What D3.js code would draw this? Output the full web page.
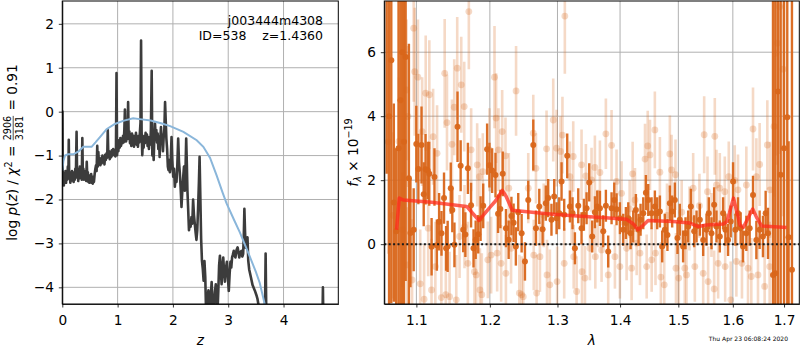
<!DOCTYPE html>
<html>
<head>
<meta charset="utf-8">
<script src="https://cdn.jsdelivr.net/npm/d3@7"></script>
<style>
  body { margin: 0; background: #fff; }
  svg { display: block; font-family: "DejaVu Sans", sans-serif; }
  .grid line { stroke: #b0b0b0; stroke-width: 1; }
  .axis path, .axis line { stroke: #000; stroke-width: 0.8; }
  .axis text { font-size: 13.7px; fill: #000; font-family: "DejaVu Sans", sans-serif; }
</style>
</head>
<body>
<svg id="chart" width="800" height="350"></svg>
<script>
// ---- data ----
var zTicks = [0, 1, 2, 3, 4];
var logpTicks = [-4, -3, -2, -1, 0, 1, 2];
var lamTicks = [1.1, 1.2, 1.3, 1.4, 1.5, 1.6, 1.7];
var fluxTicks = [0, 2, 4, 6];

// log p(z) curve [z, log p]
var logpz = [
  [0.000,-1.70],[0.003,0.00],[0.008,-1.62],[0.018,-1.40],[0.028,-1.68],[0.038,-1.45],[0.048,-1.58],[0.058,-1.35],
  [0.068,-1.62],[0.078,-1.42],[0.090,-1.55],[0.100,-1.25],[0.110,-1.50],[0.117,-0.64],[0.125,-1.52],[0.135,-1.38],
  [0.145,-1.62],[0.155,-1.45],[0.165,-1.57],[0.175,-1.35],[0.185,-1.52],[0.195,-1.42],[0.205,-1.60],[0.215,-1.38],
  [0.225,-1.55],[0.235,-1.30],[0.245,-1.50],[0.258,-0.46],[0.268,-1.48],[0.278,-1.30],[0.288,-1.58],[0.298,-1.40],
  [0.308,-1.52],[0.318,-1.25],[0.328,-1.50],[0.340,-1.38],[0.352,-1.55],[0.362,-0.60],[0.372,-1.45],[0.382,-1.30],
  [0.392,-1.55],[0.402,-1.40],[0.412,-1.52],[0.422,-1.35],[0.432,-1.58],[0.442,-1.14],[0.452,-1.50],[0.462,-1.38],
  [0.472,-1.60],[0.482,-1.45],[0.492,-1.62],[0.502,-1.48],[0.512,-1.58],[0.522,-1.42],[0.532,-1.62],[0.542,-1.50],
  [0.552,-1.64],[0.562,-1.48],[0.572,-1.60],[0.585,-1.42],[0.598,-1.30],[0.610,-1.22],[0.620,-1.35],[0.632,-0.78],
  [0.642,-1.25],[0.652,-0.92],[0.662,-1.20],[0.675,-1.05],[0.688,-1.22],[0.700,-1.10],[0.712,-1.18],[0.725,-1.00],
  [0.738,-1.15],[0.750,-1.05],[0.762,-1.20],[0.775,-0.98],[0.788,-1.10],[0.800,-0.95],[0.812,-1.05],[0.822,-0.42],
  [0.832,-1.00],[0.845,-0.90],[0.858,-1.08],[0.870,-0.92],[0.882,-1.04],[0.895,-0.88],[0.908,-1.00],[0.920,-0.85],
  [0.932,-0.98],[0.945,-0.88],[0.958,-1.02],[0.970,-0.92],[0.980,0.88],[0.990,-0.99],[1.002,-0.78],[1.014,-0.90],
  [1.026,-0.65],[1.038,-0.82],[1.050,-0.60],[1.062,-0.78],[1.074,-0.62],[1.086,-0.72],[1.098,-0.55],[1.110,-0.70],
  [1.122,-0.40],[1.132,0.05],[1.142,-0.52],[1.154,-0.68],[1.166,-0.48],[1.178,-0.62],[1.190,0.22],[1.200,-0.58],
  [1.212,-0.45],[1.224,-0.72],[1.236,-0.52],[1.248,-0.78],[1.260,-0.50],[1.272,-0.68],[1.284,-0.55],[1.296,-0.80],
  [1.308,-0.55],[1.320,-0.72],[1.332,-0.48],[1.344,-0.75],[1.356,-0.58],[1.368,-0.80],[1.380,-0.55],[1.392,-0.70],
  [1.404,-0.45],[1.414,-0.25],[1.424,1.62],[1.434,-0.45],[1.446,-0.99],[1.458,-0.65],[1.470,-0.82],[1.482,-0.55],
  [1.494,-0.72],[1.506,-0.48],[1.518,-0.68],[1.530,-0.52],[1.542,-0.78],[1.554,-0.58],[1.566,-0.85],[1.578,-0.62],
  [1.590,-0.75],[1.602,-0.40],[1.616,0.93],[1.628,-1.00],[1.640,-0.72],[1.652,-1.10],[1.664,-0.60],[1.676,-0.27],
  [1.688,-0.55],[1.700,-0.42],[1.712,-0.70],[1.724,-0.50],[1.736,-0.85],[1.748,-0.58],[1.760,-1.03],[1.772,-0.62],
  [1.784,-0.35],[1.796,-0.70],[1.808,-0.52],[1.820,-0.90],[1.832,-0.60],[1.845,-0.40],[1.858,0.22],[1.870,-0.20],
  [1.882,-0.62],[1.895,-0.85],[1.908,-1.25],[1.920,-1.33],[1.932,-1.10],[1.945,-1.38],[1.958,-1.20],[1.975,-0.58],
  [1.988,-1.10],[2.005,-1.48],[2.020,-1.30],[2.035,-1.71],[2.050,-1.45],[2.065,-1.60],[2.080,-1.20],[2.095,-0.61],
  [2.110,-1.15],[2.125,-1.40],[2.140,-1.75],[2.155,-2.17],[2.170,-1.80],[2.185,-1.50],[2.200,-1.25],[2.215,-1.80],
  [2.228,-1.30],[2.240,-0.61],[2.252,-1.20],[2.262,-1.79],[2.275,-2.20],[2.290,-2.70],[2.305,-2.55],[2.320,-2.62],
  [2.335,-2.40],[2.350,-2.55],[2.365,-2.00],[2.380,-2.35],[2.395,-2.55],[2.410,-2.75],[2.425,-2.92],[2.440,-2.70],
  [2.455,-2.20],[2.470,-1.60],[2.482,-1.03],[2.495,-1.90],[2.510,-2.90],[2.525,-3.40],[2.540,-3.58],[2.555,-3.85],
  [2.570,-3.40],[2.585,-3.77],[2.600,-4.60],[2.615,-4.90],[2.630,-4.20],[2.642,-4.07],[2.655,-4.50],[2.670,-4.80],
  [2.685,-4.20],[2.700,-3.88],[2.715,-4.30],[2.730,-4.70],[2.745,-4.40],[2.760,-4.10],[2.775,-3.93],[2.790,-4.25],
  [2.805,-4.60],[2.820,-4.10],[2.835,-3.50],[2.850,-3.28],[2.865,-3.60],[2.880,-3.93],[2.895,-3.55],[2.910,-3.32],
  [2.925,-3.65],[2.940,-3.87],[2.955,-3.60],[2.975,-3.42],[2.990,-3.70],[3.010,-4.08],[3.025,-3.70],[3.040,-3.42],
  [3.055,-3.55],[3.070,-3.32],[3.085,-3.25],[3.100,-3.17],[3.115,-3.28],[3.130,-3.32],[3.150,-3.15],[3.170,-3.09],
  [3.185,-3.20],[3.200,-3.32],[3.220,-3.20],[3.240,-3.17],[3.255,-3.30],[3.270,-3.24],[3.282,-2.80],[3.292,-2.21],
  [3.303,-2.70],[3.315,-3.10],[3.330,-3.05],[3.348,-2.86],[3.362,-3.39],[3.380,-3.60],[3.410,-3.77],[3.440,-3.95],
  [3.480,-4.07],[3.510,-4.18],[3.530,-4.27],[3.560,-4.50],[3.600,-4.80],[3.640,-4.95],[3.665,-4.50],[3.676,-3.23],
  [3.688,-4.60],[3.710,-5.30],[3.800,-5.60],[4.000,-5.80],[4.200,-5.50],[4.400,-5.90],[4.600,-5.60],[4.700,-5.00],
  [4.712,-4.00],[4.722,-5.00],[4.800,-5.80],[4.990,-6.00]
];

// prior curve [z, log p]
var prior = [
  [0.00,-1.35],[0.02,-1.12],[0.05,-1.00],[0.10,-0.97],[0.20,-0.97],[0.30,-0.90],[0.38,-0.80],[0.53,-0.80],
  [0.60,-0.70],[0.70,-0.55],[0.80,-0.40],[0.95,-0.28],[1.10,-0.21],[1.28,-0.15],[1.40,-0.17],[1.60,-0.20],
  [1.80,-0.27],[1.95,-0.33],[2.19,-0.46],[2.43,-0.65],[2.55,-0.80],[2.67,-1.05],[2.79,-1.45],[2.90,-1.85],
  [2.97,-2.09],[3.10,-2.45],[3.21,-2.75],[3.39,-3.30],[3.50,-3.65],[3.57,-3.90],[3.70,-4.60]
];

// spectrum, first set (dark) [lambda, flux, err]
var specDark = [
  [1.0620,9.0,6.8],[1.0650,4.0,6.0],[1.0678,5.75,7.6],[1.0710,1.3,3.1],[1.0740,0.4,2.6],[1.0770,3.0,9],
  [1.0795,4.5,8],[1.0818,6.0,8],[1.0840,3.2,6],[1.0861,5.85,7],[1.0903,2.06,4.2],[1.0923,0.35,1.7],
  [1.0965,0.45,1.3],[1.0999,3.13,1.2],[1.1026,2.35,1.1],[1.1067,3.1,1.2],[1.1096,1.56,1.0],[1.1120,2.34,1.1],
  [1.1149,2.3,0.9],[1.1169,2.2,1.0],[1.1200,-0.08,0.9],[1.1238,2.1,0.9],[1.1270,-0.03,0.8],[1.1300,0.7,0.9],
  [1.1332,0.34,0.7],[1.1366,1.44,0.8],[1.1394,-0.13,0.7],[1.1415,-0.07,0.8],[1.1457,1.75,0.8],[1.1478,1.07,0.7],
  [1.1507,-0.02,0.7],[1.1549,3.67,1.1],[1.1592,2.45,0.8],[1.1627,0.45,0.7],[1.1657,0.3,0.7],[1.1692,2.37,0.8],
  [1.1736,1.22,0.7],[1.1770,-0.13,0.6],[1.1800,0.14,0.6],[1.1836,0.31,0.6],[1.1869,0.8,0.7],[1.1906,1.2,0.7],
  [1.1961,2.97,0.8],[1.1994,2.47,0.7],[1.2032,2.3,0.7],[1.2080,2.16,0.7],[1.2117,0.95,0.6],[1.2150,1.1,0.6],
  [1.2184,2.2,0.7],[1.2231,0.5,0.6],[1.2270,0.14,0.6],[1.2310,0.88,0.6],[1.2342,0.67,0.6],[1.2375,-0.07,0.6],
  [1.2410,1.0,0.6],[1.2460,0.34,0.6],[1.2509,-0.54,0.6],[1.2558,1.38,0.6],[1.2633,3.1,0.8],[1.2673,0.5,0.55],
  [1.2723,1.18,0.55],[1.2773,0.47,0.5],[1.2822,1.28,0.55],[1.2858,1.44,0.6],[1.2908,0.76,0.5],[1.2950,1.49,0.55],
  [1.2986,0.81,0.5],[1.3027,0.97,0.5],[1.3063,1.96,0.6],[1.3104,0.92,0.5],[1.3151,2.76,0.7],[1.3193,1.18,0.5],
  [1.3234,0.97,0.5],[1.3271,-0.13,0.5],[1.3324,1.2,0.55],[1.3376,0.5,0.5],[1.3413,0.92,0.5],[1.3456,1.12,0.5],
  [1.3498,1.93,0.6],[1.3546,0.24,0.5],[1.3589,1.0,0.5],[1.3627,1.18,0.5],[1.3670,1.12,0.55],[1.3724,0.4,0.5],
  [1.3767,1.2,0.5],[1.3805,-0.23,0.5],[1.3860,1.12,0.5],[1.3904,1.38,0.55],[1.3942,1.09,0.5],[1.3997,0.81,0.5],
  [1.4053,0.45,0.5],[1.4097,0.66,0.5],[1.4137,0.81,0.5],[1.4176,0.34,0.5],[1.4220,0.55,0.5],[1.4265,1.07,0.5],
  [1.4310,0.45,0.5],[1.4344,0.76,0.5],[1.4390,0.97,0.5],[1.4435,1.61,0.55],[1.4475,1.38,0.5],[1.4532,0.97,0.5],
  [1.4589,1.18,0.5],[1.4629,0.97,0.5],[1.4676,1.02,0.5],[1.4716,-0.07,0.5],[1.4762,0.45,0.5],[1.4808,0.29,0.5],
  [1.4850,1.28,0.55],[1.4891,1.02,0.5],[1.4938,1.38,0.55],[1.4985,0.19,0.5],[1.5026,0.76,0.5],[1.5085,-0.07,0.5],
  [1.5128,0.34,0.5],[1.5176,0.55,0.5],[1.5224,1.18,0.55],[1.5284,0.4,0.5],[1.5327,0.55,0.5],[1.5387,0.76,0.5],
  [1.5448,0.13,0.5],[1.5509,0.45,0.5],[1.5551,0.97,0.5],[1.5601,0.34,0.5],[1.5650,1.23,0.55],[1.5693,0.55,0.5],
  [1.5755,0.24,0.5],[1.5817,0.97,0.5],[1.5860,0.45,0.5],[1.5910,0.13,0.5],[1.5960,0.71,0.5],[1.6004,1.96,0.6],
  [1.6048,0.45,0.5],[1.6098,0.97,0.5],[1.6149,0.5,0.5],[1.6194,-0.07,0.5],[1.6258,0.34,0.55],[1.6322,0.5,0.55],
  [1.6387,1.54,0.6],[1.6452,0.13,0.6],[1.6516,0.45,0.6],[1.6581,0.24,0.65],[1.6634,0.97,0.7],[1.6680,0.34,0.8],
  [1.6779,-0.96,9],[1.6825,-0.91,9],[1.6878,4.77,9],[1.6932,2.17,9],[1.7000,3.0,9],[1.7065,3.97,9],
  [1.7092,0.22,3],[1.7160,-0.8,9]
];

// spectrum, second set (faint) [lambda, flux, err]
var specLight = [
  [1.0640,3.2,3.5],[1.0700,0.9,2.6],[1.0775,3.21,2.0],[1.0818,0.45,1.8],[1.0873,4.82,2.2],[1.0881,-0.65,1.8],
  [1.0890,3.99,2.2],[1.0944,-1.12,1.9],[1.0965,6.75,2.3],[1.0978,5.39,2.0],[1.1020,5.22,1.8],[1.1050,-1.24,1.7],
  [1.1075,3.52,1.7],[1.1101,-1.72,1.7],[1.1122,4.72,1.8],[1.1155,0.5,1.5],[1.1170,4.67,1.7],[1.1199,-1.43,1.6],
  [1.1220,3.36,1.5],[1.1250,-0.7,1.4],[1.1273,2.84,1.5],[1.1330,-1.67,1.5],[1.1375,5.34,1.7],[1.1390,-1.58,1.4],
  [1.1406,3.8,1.5],[1.1441,-1.64,1.4],[1.1473,3.12,1.4],[1.1504,4.28,1.5],[1.1532,-1.74,1.4],[1.1545,5.5,1.6],
  [1.1577,0.24,1.3],[1.1600,4.98,1.5],[1.1641,4.3,1.4],[1.1645,0.55,1.3],[1.1691,-0.6,1.3],[1.1705,7.27,1.8],
  [1.1737,2.95,1.3],[1.1783,-0.86,1.3],[1.1807,-0.96,1.3],[1.1821,2.48,1.3],[1.1853,2.11,1.2],[1.1860,-1.43,1.3],
  [1.1886,-1.58,1.3],[1.1900,2.27,1.2],[1.1971,-0.49,1.2],[1.1994,2.95,1.3],[1.2018,-0.34,1.2],[1.2066,5.22,1.6],
  [1.2089,3.94,1.4],[1.2104,-0.28,1.2],[1.2123,2.95,1.3],[1.2161,-0.6,1.2],[1.2176,3.52,1.3],[1.2224,2.76,1.2],
  [1.2230,-0.91,1.2],[1.2272,1.75,1.1],[1.2305,-0.13,1.1],[1.2378,4.79,1.4],[1.2426,-1.53,1.2],[1.2460,-1.58,1.2],
  [1.2484,-1.64,1.2],[1.2558,1.75,1.1],[1.2633,3.47,1.2],[1.2640,-0.34,1.1],[1.2673,2.37,1.1],[1.2683,-1.53,1.2],
  [1.2733,-0.39,1.1],[1.2790,0.9,1.0],[1.2833,2.98,1.2],[1.2840,-0.96,1.1],[1.2883,-1.27,1.1],[1.2935,3.88,1.3],
  [1.2986,3.0,1.2],[1.2995,-1.17,1.1],[1.3047,2.9,1.1],[1.3077,3.41,1.2],[1.3104,-0.6,1.1],[1.3114,7.13,1.8],
  [1.3193,2.11,1.1],[1.3220,1.0,1.0],[1.3245,2.74,1.1],[1.3252,-0.39,1.0],[1.3298,-1.48,1.1],[1.3376,2.48,1.1],
  [1.3383,-0.86,1.0],[1.3430,-1.06,1.0],[1.3445,2.13,1.0],[1.3509,-0.13,1.0],[1.3535,2.01,1.0],[1.3589,2.4,1.0],
  [1.3596,-0.39,1.0],[1.3640,0.8,0.9],[1.3670,2.24,1.0],[1.3697,-0.18,1.0],[1.3767,3.45,1.1],[1.3805,-0.96,1.0],
  [1.3860,3.09,1.1],[1.3915,-0.39,1.0],[1.3942,1.96,1.0],[1.3997,-0.7,1.0],[1.4025,1.59,1.0],[1.4109,-0.13,1.0],
  [1.4160,1.1,0.9],[1.4193,-0.75,1.0],[1.4210,2.2,1.0],[1.4250,1.38,1.0],[1.4278,0.03,1.0],[1.4334,-0.28,1.0],
  [1.4420,2.66,1.1],[1.4448,-0.7,1.0],[1.4466,3.07,1.1],[1.4505,2.79,1.1],[1.4534,-0.49,1.0],[1.4589,3.57,1.2],
  [1.4600,-0.28,1.0],[1.4676,2.25,1.1],[1.4693,-1.03,1.1],[1.4752,-1.27,1.1],[1.4800,0.9,1.0],[1.4850,2.82,1.2],
  [1.4880,2.32,1.1],[1.4950,2.17,1.1],[1.4958,-0.75,1.1],[1.5008,-1.06,1.1],[1.5060,1.0,1.0],[1.5115,-0.75,1.1],
  [1.5146,-0.96,1.1],[1.5200,0.8,1.0],[1.5266,1.75,1.1],[1.5296,-0.7,1.1],[1.5380,1.2,1.0],[1.5448,-0.91,1.1],
  [1.5466,3.42,1.2],[1.5527,1.64,1.1],[1.5539,-1.17,1.1],[1.5600,0.6,1.0],[1.5650,-1.4,1.2],[1.5662,3.37,1.2],
  [1.5693,1.85,1.1],[1.5724,-0.6,1.1],[1.5755,1.75,1.1],[1.5848,1.64,1.1],[1.5855,-0.7,1.1],[1.5923,2.11,1.1],
  [1.5960,-1.74,1.2],[1.6036,1.99,1.1],[1.6067,-0.54,1.1],[1.6098,1.7,1.1],[1.6174,-0.6,1.1],[1.6258,1.85,1.2],
  [1.6290,-0.75,1.2],[1.6354,-1.01,1.2],[1.6387,3.6,1.3],[1.6452,2.11,1.2],[1.6484,-0.96,1.2],[1.6516,2.49,1.3],
  [1.6614,-1.32,1.3],[1.6667,3.1,1.4],[1.6713,-0.7,1.4],[1.6720,1.7,1.5],[1.6800,3.68,2.2],[1.6840,5.97,3.2],
  [1.6866,6.28,3.8],[1.6912,7.42,4.6],[1.6979,5.47,4.6]
];

// best-fit model [lambda, flux]
var model = [
  [1.0745,0.45],[1.0779,1.44],[1.0830,1.38],[1.1200,1.31],[1.1675,1.18],[1.1846,0.74],[1.2000,1.15],[1.2080,1.35],
  [1.2178,1.68],[1.2232,1.50],[1.2322,1.06],[1.2800,0.96],[1.3245,0.89],[1.3700,0.83],[1.4107,0.78],[1.4218,0.64],
  [1.4302,0.45],[1.4377,0.57],[1.4473,0.74],[1.4908,0.71],[1.5207,0.66],[1.5360,0.55],[1.5510,0.60],[1.5820,0.63],
  [1.5890,0.71],[1.6013,1.44],[1.6137,0.60],[1.6201,0.53],[1.6380,1.10],[1.6458,0.83],[1.6555,0.57],[1.7051,0.52]
];

var svg = d3.select("#chart");

// ---------- left panel: p(z) ----------
var L = {x0: 62.3, x1: 338.3, y0: 1, y1: 304};
var xz = d3.scaleLinear().domain([0, 4.99]).range([L.x0, L.x1]);
var yp = d3.scaleLinear().domain([-4.38, 2.52]).range([L.y1, L.y0]);

svg.append("clipPath").attr("id", "clipL").append("rect")
  .attr("x", L.x0).attr("y", L.y0).attr("width", L.x1 - L.x0).attr("height", L.y1 - L.y0);

var gl = svg.append("g");
var gridL = gl.append("g").attr("class", "grid");
gridL.selectAll(".vx").data(zTicks).enter().append("line")
  .attr("x1", function(d) { return xz(d); }).attr("x2", function(d) { return xz(d); })
  .attr("y1", L.y0).attr("y2", L.y1);
gridL.selectAll(".hy").data(logpTicks).enter().append("line")
  .attr("x1", L.x0).attr("x2", L.x1)
  .attr("y1", function(d) { return yp(d); }).attr("y2", function(d) { return yp(d); });

var lineL = d3.line()
  .x(function(d) { return xz(d[0]); })
  .y(function(d) { return yp(d[1]); });

var plotL = gl.append("g").attr("clip-path", "url(#clipL)");
plotL.append("path").datum(logpz)
  .attr("d", lineL).attr("fill", "none")
  .attr("stroke", "#3c3c3c").attr("stroke-width", 2.6).attr("stroke-linejoin", "round");
plotL.append("path").datum(prior)
  .attr("d", lineL).attr("fill", "none")
  .attr("stroke", "#8ab6da").attr("stroke-width", 2);

gl.append("g").attr("class", "axis")
  .attr("transform", "translate(0," + L.y1 + ")")
  .call(d3.axisBottom(xz).tickValues(zTicks).tickSize(3.5).tickPadding(8).tickSizeOuter(0)
    .tickFormat(d3.format("d")));
gl.append("g").attr("class", "axis")
  .attr("transform", "translate(" + L.x0 + ",0)")
  .call(d3.axisLeft(yp).tickValues(logpTicks).tickSize(3.5).tickPadding(4.8).tickSizeOuter(0)
    .tickFormat(function(d) { return d < 0 ? "\u2212" + Math.abs(d) : d; }));
gl.append("rect").attr("x", L.x0).attr("y", L.y0).attr("width", L.x1 - L.x0).attr("height", L.y1 - L.y0)
  .attr("fill", "none").attr("stroke", "#000").attr("stroke-width", 1);

gl.append("text").attr("x", 323).attr("y", 25).attr("text-anchor", "end")
  .style("font-size", "12.5px").text("j003444m4308");
gl.append("text").attr("x", 323).attr("y", 39.5).attr("text-anchor", "end")
  .style("font-size", "12.5px").style("white-space", "pre").text("ID=538    z=1.4360");

gl.append("text").attr("x", (L.x0 + L.x1) / 2).attr("y", 345).attr("text-anchor", "middle")
  .style("font-size", "13.7px").style("font-style", "italic").text("z");

// pieces of a mathtext-like label laid out one after another
function mathLabel(parent, pieces) {
  var inner = parent.append("g");
  var x = 0;
  pieces.forEach(function(p) {
    if (p.frac) {
      var fs = 9.6;
      var tn = inner.append("text").attr("y", -5.6).attr("text-anchor", "middle")
        .style("font-size", fs + "px").text(p.frac[0]);
      var td = inner.append("text").attr("y", 5.8).attr("text-anchor", "middle")
        .style("font-size", fs + "px").text(p.frac[1]);
      var w = Math.max(tn.node().getComputedTextLength(), td.node().getComputedTextLength());
      tn.attr("x", x + 1 + w / 2);
      td.attr("x", x + 1 + w / 2);
      inner.append("line").attr("x1", x + 1).attr("x2", x + 1 + w)
        .attr("y1", -3.8).attr("y2", -3.8).attr("stroke", "#000").attr("stroke-width", 0.7);
      x += w + 2;
    } else {
      var t = inner.append("text").attr("x", x).attr("y", p.dy || 0)
        .style("font-size", (p.fs || 13.7) + "px")
        .style("font-style", p.it ? "italic" : "normal")
        .style("white-space", "pre")
        .text(p.t);
      x += t.node().getComputedTextLength();
    }
  });
  inner.attr("transform", "translate(" + (-x / 2) + ",0)");
}

var ylabL = svg.append("g").attr("transform", "translate(17,152.5) rotate(-90)");
mathLabel(ylabL, [
  {t: "log "}, {t: "p", it: true}, {t: "("}, {t: "z", it: true}, {t: ") / "},
  {t: "\u03c7", it: true}, {t: "2", fs: 9.6, dy: -5.5}, {t: " = "},
  {frac: ["2906", "3181"]}, {t: " = 0.91"}
]);

// ---------- right panel: spectrum ----------
var R = {x0: 384.3, x1: 799.3, y0: 1, y1: 304};
var xl = d3.scaleLog().domain([1.059, 1.731]).range([R.x0, R.x1]);
var yf = d3.scaleLinear().domain([-1.87, 7.6]).range([R.y1, R.y0]);

svg.append("clipPath").attr("id", "clipR").append("rect")
  .attr("x", R.x0).attr("y", R.y0).attr("width", R.x1 - R.x0).attr("height", R.y1 - R.y0);

var gr = svg.append("g");
var gridR = gr.append("g").attr("class", "grid");
gridR.selectAll(".vx").data(lamTicks).enter().append("line")
  .attr("x1", function(d) { return xl(d); }).attr("x2", function(d) { return xl(d); })
  .attr("y1", R.y0).attr("y2", R.y1);
gridR.selectAll(".hy").data(fluxTicks).enter().append("line")
  .attr("x1", R.x0).attr("x2", R.x1)
  .attr("y1", function(d) { return yf(d); }).attr("y2", function(d) { return yf(d); });

var plotR = gr.append("g").attr("clip-path", "url(#clipR)");
var orange = "#d9661a";

function drawPoints(data, opacity, r, w) {
  var g = plotR.append("g");
  g.selectAll("line").data(data).enter().append("line")
    .attr("x1", function(d) { return xl(d[0]); }).attr("x2", function(d) { return xl(d[0]); })
    .attr("y1", function(d) { return yf(d[1] - d[2]); }).attr("y2", function(d) { return yf(d[1] + d[2]); })
    .attr("stroke", orange).attr("stroke-opacity", opacity).attr("stroke-width", w);
  g.selectAll("circle").data(data).enter().append("circle")
    .attr("cx", function(d) { return xl(d[0]); }).attr("cy", function(d) { return yf(d[1]); })
    .attr("r", r).attr("fill", orange).attr("fill-opacity", opacity);
}
drawPoints(specLight, 0.25, 3.4, 2.6);
drawPoints(specDark, 0.95, 3, 2.4);

var lineR = d3.line()
  .x(function(d) { return xl(d[0]); })
  .y(function(d) { return yf(d[1]); });
plotR.append("path").datum(model).attr("d", lineR).attr("fill", "none")
  .attr("stroke", "#ff2b1c").attr("stroke-opacity", 0.75).attr("stroke-width", 3.5)
  .attr("stroke-linejoin", "round");

plotR.append("line").attr("x1", R.x0).attr("x2", R.x1)
  .attr("y1", yf(0)).attr("y2", yf(0))
  .attr("stroke", "#1a1a1a").attr("stroke-width", 2).attr("stroke-dasharray", "2,2.4");

gr.append("g").attr("class", "axis")
  .attr("transform", "translate(0," + R.y1 + ")")
  .call(d3.axisBottom(xl).tickValues(lamTicks).tickSize(3.5).tickPadding(8).tickSizeOuter(0)
    .tickFormat(d3.format(".1f")));
gr.append("g").attr("class", "axis")
  .attr("transform", "translate(" + R.x0 + ",0)")
  .call(d3.axisLeft(yf).tickValues(fluxTicks).tickSize(3.5).tickPadding(4.8).tickSizeOuter(0)
    .tickFormat(d3.format("d")));
gr.append("rect").attr("x", R.x0).attr("y", R.y0).attr("width", R.x1 - R.x0).attr("height", R.y1 - R.y0)
  .attr("fill", "none").attr("stroke", "#000").attr("stroke-width", 1);

gr.append("text").attr("x", (R.x0 + R.x1) / 2).attr("y", 345).attr("text-anchor", "middle")
  .style("font-size", "13.7px").style("font-style", "italic").text("\u03bb");

var ylabR = svg.append("g").attr("transform", "translate(357.5,152.5) rotate(-90)");
mathLabel(ylabR, [
  {t: "f", it: true}, {t: "\u03bb", it: true, fs: 9.6, dy: 3}, {t: " \u00d7 10"},
  {t: "\u221219", fs: 9.6, dy: -5.5}
]);

svg.append("text").attr("x", 788).attr("y", 341).attr("text-anchor", "end")
  .style("font-size", "6px").text("Thu Apr 23 06:08:24 2020");
</script>
</body>
</html>
